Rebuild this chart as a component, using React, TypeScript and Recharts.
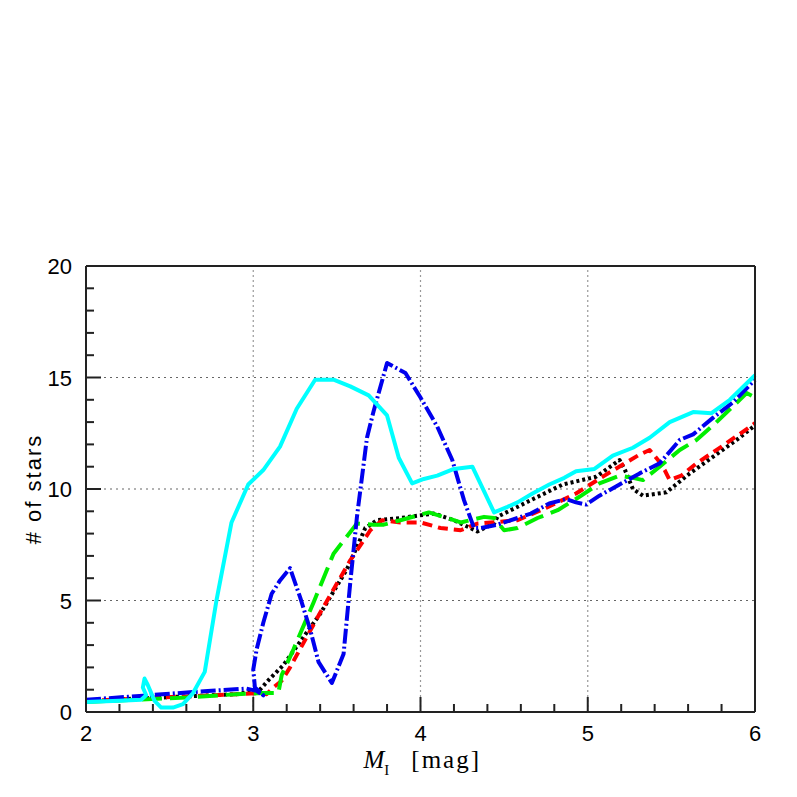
import { LineChart, Line, XAxis, YAxis, ReferenceLine } from 'recharts'

// series (x = M_I, y = # of stars)
const blackX = [2.0, 2.3, 2.6, 2.9, 3.04, 3.1, 3.18, 3.28, 3.4, 3.56, 3.67, 3.74, 3.88, 4.08, 4.2, 4.34, 4.44, 4.46, 4.66, 4.85, 5.05, 5.19, 5.22, 5.27, 5.33, 5.47, 5.61, 5.75, 5.89, 6.0]
const blackY = [0.5, 0.6, 0.7, 0.8, 1.0, 1.5, 2.1, 3.15, 4.4, 6.4, 8.25, 8.6, 8.7, 8.9, 8.6, 8.1, 8.45, 8.75, 9.5, 10.2, 10.55, 11.3, 10.9, 10.0, 9.7, 9.85, 10.7, 11.45, 12.2, 12.85]

const redX = [2.0, 2.3, 2.6, 2.9, 3.04, 3.08, 3.12, 3.17, 3.22, 3.26, 3.4, 3.58, 3.7, 3.77, 3.88, 4.0, 4.12, 4.24, 4.34, 4.42, 4.58, 4.75, 4.93, 5.1, 5.21, 5.3, 5.37, 5.42, 5.46, 5.49, 5.56, 5.65, 5.81, 6.0]
const redY = [0.5, 0.6, 0.7, 0.8, 0.85, 0.8, 1.1, 1.4, 2.0, 2.55, 4.45, 6.8, 8.15, 8.6, 8.5, 8.5, 8.25, 8.15, 8.45, 8.5, 8.6, 9.15, 9.8, 10.6, 11.1, 11.5, 11.75, 11.3, 10.85, 10.4, 10.6, 11.15, 11.95, 12.95]

const greenX = [2.0, 2.3, 2.6, 2.9, 3.05, 3.15, 3.17, 3.24, 3.36, 3.48, 3.62, 3.72, 3.78, 3.88, 4.05, 4.16, 4.24, 4.38, 4.44, 4.5, 4.58, 4.7, 4.82, 4.95, 5.07, 5.19, 5.27, 5.33, 5.43, 5.55, 5.65, 5.77, 5.95, 6.0]
const greenY = [0.45, 0.55, 0.65, 0.8, 0.85, 0.85, 1.65, 2.8, 4.9, 7.1, 8.45, 8.4, 8.4, 8.6, 8.95, 8.7, 8.5, 8.75, 8.7, 8.15, 8.25, 8.7, 9.05, 9.65, 10.25, 10.6, 10.5, 10.4, 11.0, 11.75, 12.2, 13.0, 14.3, 14.1]

const blueX = [2.0, 2.25, 2.5, 2.75, 2.96, 3.02, 3.06, 3.01, 3.0, 3.02, 3.06, 3.11, 3.16, 3.22, 3.28, 3.34, 3.39, 3.47, 3.54, 3.58, 3.62, 3.68, 3.72, 3.8, 3.91, 4.0, 4.1, 4.19, 4.26, 4.32, 4.36, 4.46, 4.58, 4.66, 4.77, 4.87, 4.93, 4.99, 5.07, 5.19, 5.31, 5.43, 5.55, 5.63, 5.75, 5.87, 6.0]
const blueY = [0.55, 0.68, 0.82, 0.95, 1.05, 0.95, 0.75, 1.1, 1.9, 2.8, 4.0, 5.3, 5.9, 6.45, 5.15, 3.7, 2.25, 1.3, 2.6, 5.8, 8.75, 12.3, 13.5, 15.65, 15.2, 14.1, 12.8, 11.3, 9.5, 8.25, 8.25, 8.4, 8.7, 8.9, 9.35, 9.55, 9.4, 9.3, 9.7, 10.2, 10.7, 11.15, 12.2, 12.45, 13.2, 13.9, 14.9]

const cyanX = [2.0, 2.2, 2.33, 2.36, 2.34, 2.35, 2.37, 2.41, 2.45, 2.52, 2.58, 2.64, 2.71, 2.78, 2.87, 2.97, 3.06, 3.16, 3.26, 3.37, 3.48, 3.58, 3.69, 3.8, 3.87, 3.95, 4.02, 4.1, 4.2, 4.31, 4.44, 4.52, 4.58, 4.67, 4.77, 4.86, 4.93, 5.04, 5.15, 5.27, 5.37, 5.49, 5.63, 5.74, 5.85, 6.0]
const cyanY = [0.45, 0.5, 0.55, 0.75, 1.1, 1.5, 1.2, 0.5, 0.2, 0.2, 0.35, 0.85, 1.8, 5.0, 8.5, 10.2, 10.85, 11.9, 13.6, 14.9, 14.9, 14.6, 14.2, 13.3, 11.4, 10.25, 10.45, 10.6, 10.9, 11.0, 8.95, 9.2, 9.4, 9.8, 10.2, 10.5, 10.8, 10.9, 11.5, 11.85, 12.3, 13.0, 13.45, 13.4, 14.0, 15.1]

const xMajorTicks = [2, 3, 4, 5, 6]
const xMinorTicks = [2.2, 2.4, 2.6, 2.8, 3.2, 3.4, 3.6, 3.8, 4.2, 4.4, 4.6, 4.8, 5.2, 5.4, 5.6, 5.8]
const yMajorTicks = [0, 5, 10, 15, 20]
const yMinorTicks = [1, 2, 3, 4, 6, 7, 8, 9, 11, 12, 13, 14, 16, 17, 18, 19]
const xGrid = [3, 4, 5]
const yGrid = [5, 10, 15]

const zip = (xs: number[], ys: number[]) => xs.map((x, i) => ({ x, y: ys[i] }))

const series = [
  { name: 'black', data: zip(blackX, blackY), color: '#000000', dash: '3 3' },
  { name: 'red', data: zip(redX, redY), color: '#ff0000', dash: '10 6' },
  { name: 'green', data: zip(greenX, greenY), color: '#00ee00', dash: '20 8' },
  { name: 'blue', data: zip(blueX, blueY), color: '#0000ee', dash: '15 3 2 3' },
  { name: 'cyan', data: zip(cyanX, cyanY), color: '#00ffff', dash: undefined },
]

const axisColor = '#222'
const tickFont = 'Liberation Sans, Arial, sans-serif'
const isMajorX = (v: number) => xMajorTicks.includes(v)
const isMajorY = (v: number) => yMajorTicks.includes(v)

const BottomTick = (props: any) => {
  const { x, y, payload } = props
  const major = isMajorX(payload.value)
  return (
    <g>
      <line x1={x} x2={x} y1={y} y2={y - (major ? 15 : 8)} stroke={axisColor} strokeWidth={2} />
      {major && (
        <text x={x} y={y + 29} textAnchor="middle" fontSize={22} fontFamily={tickFont} fill="#000">
          {payload.value}
        </text>
      )}
    </g>
  )
}

const TopTick = (props: any) => {
  const { x, y, payload } = props
  const major = isMajorX(payload.value)
  return <line x1={x} x2={x} y1={y} y2={y + (major ? 15 : 8)} stroke={axisColor} strokeWidth={2} />
}

const LeftTick = (props: any) => {
  const { x, y, payload } = props
  const major = isMajorY(payload.value)
  return (
    <g>
      <line x1={x} x2={x + (major ? 15 : 8)} y1={y} y2={y} stroke={axisColor} strokeWidth={2} />
      {major && (
        <text x={x - 14} y={y + 8} textAnchor="end" fontSize={22} fontFamily={tickFont} fill="#000">
          {payload.value}
        </text>
      )}
    </g>
  )
}

const RightTick = (props: any) => {
  const { x, y, payload } = props
  const major = isMajorY(payload.value)
  return <line x1={x} x2={x - (major ? 15 : 8)} y1={y} y2={y} stroke={axisColor} strokeWidth={2} />
}

const XLabel = (props: any) => {
  const vb = props.viewBox
  const cx = vb.x + vb.width / 2
  return (
    <text x={cx - 57} y={vb.y + 56} fontFamily="Liberation Serif, Times New Roman, serif" fontSize={25} fill="#000">
      <tspan fontStyle="italic">M</tspan>
      <tspan fontSize={15} dy={7}>I</tspan>
      <tspan dy={-7} dx={22} letterSpacing={2}>[mag]</tspan>
    </text>
  )
}

const YLabel = (props: any) => {
  const vb = props.viewBox
  const cy = vb.y + vb.height / 2
  return (
    <text
      x={33}
      y={cy}
      transform={`rotate(-90 33 ${cy})`}
      textAnchor="middle"
      dominantBaseline="central"
      fontFamily={tickFont}
      fontSize={22}
      letterSpacing={2}
      fill="#000"
    >
      # of stars
    </text>
  )
}

export default function App() {
  const allXTicks = [...xMajorTicks, ...xMinorTicks].sort((a, b) => a - b)
  const allYTicks = [...yMajorTicks, ...yMinorTicks].sort((a, b) => a - b)
  return (
    <div style={{ width: 797, height: 797, margin: -8, background: '#fff' }}>
      <LineChart width={797} height={797} margin={{ top: 256, right: 32, bottom: 0, left: 0 }}>
        <XAxis
          xAxisId="b"
          type="number"
          dataKey="x"
          domain={[2, 6]}
          ticks={allXTicks}
          interval={0}
          height={85}
          tickSize={0}
          tickMargin={0}
          tickLine={false}
          axisLine={{ stroke: axisColor, strokeWidth: 2 }}
          tick={<BottomTick />}
          label={<XLabel />}
        />
        <XAxis
          xAxisId="t"
          orientation="top"
          type="number"
          dataKey="x"
          domain={[2, 6]}
          ticks={allXTicks}
          interval={0}
          height={10}
          tickSize={0}
          tickMargin={0}
          tickLine={false}
          axisLine={{ stroke: axisColor, strokeWidth: 2 }}
          tick={<TopTick />}
        />
        <YAxis
          yAxisId="l"
          type="number"
          domain={[0, 20]}
          ticks={allYTicks}
          interval={0}
          width={86}
          tickSize={0}
          tickMargin={0}
          tickLine={false}
          axisLine={{ stroke: axisColor, strokeWidth: 2 }}
          tick={<LeftTick />}
          label={<YLabel />}
        />
        <YAxis
          yAxisId="r"
          orientation="right"
          type="number"
          domain={[0, 20]}
          ticks={allYTicks}
          interval={0}
          width={10}
          tickSize={0}
          tickMargin={0}
          tickLine={false}
          axisLine={{ stroke: axisColor, strokeWidth: 2 }}
          tick={<RightTick />}
        />
        {xGrid.map((v) => (
          <ReferenceLine key={'gx' + v} xAxisId="b" yAxisId="l" x={v} stroke="#999" strokeDasharray="2 3" strokeWidth={1.2} />
        ))}
        {yGrid.map((v) => (
          <ReferenceLine key={'gy' + v} xAxisId="b" yAxisId="l" y={v} stroke="#666" strokeDasharray="2 4" strokeWidth={1.2} />
        ))}
        {series.map((s) => (
          <Line
            key={s.name}
            xAxisId="b"
            yAxisId="l"
            data={s.data}
            dataKey="y"
            type="linear"
            stroke={s.color}
            strokeWidth={4}
            strokeDasharray={s.dash}
            strokeLinejoin="round"
            dot={false}
            activeDot={false}
            isAnimationActive={false}
          />
        ))}
      </LineChart>
    </div>
  )
}
